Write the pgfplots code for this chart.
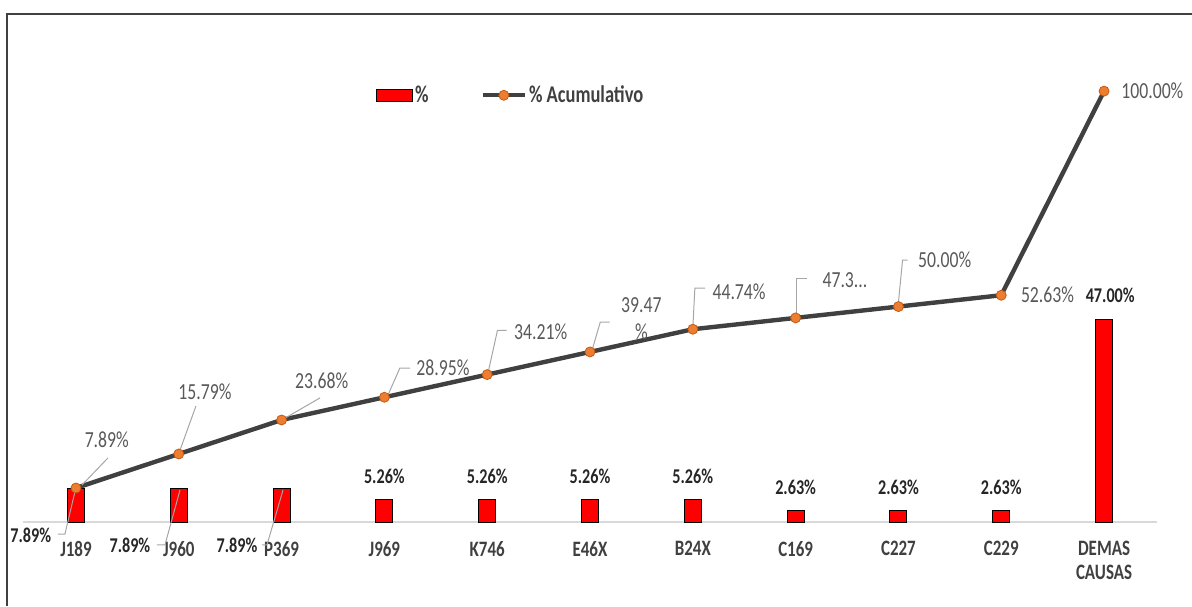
\documentclass[border=0pt]{standalone}
\usepackage{pgfplots}
\pgfplotsset{compat=1.18}
\usepackage{fontspec}
\setmainfont{Carlito}[FakeStretch=0.77]
\definecolor{barred}{HTML}{FF0000}
\definecolor{linegray}{HTML}{404040}
\definecolor{mkorange}{HTML}{ED7D31}
\definecolor{mkedge}{HTML}{C55A11}
\definecolor{lblgray}{HTML}{595959}
\definecolor{leader}{HTML}{A6A6A6}
\definecolor{tickgray}{HTML}{404040}
\begin{document}
\begin{tikzpicture}[
  lbl/.style={font=\fontsize{11.5}{12}\selectfont, text=lblgray, inner sep=0pt},
  blbl/.style={font=\fontsize{10.5}{12}\selectfont\bfseries, text=black!85, inner sep=0pt},
  ld/.style={draw=leader, line width=0.5pt}]
\begin{axis}[
  scale only axis, width=567pt, height=254pt,
  xmin=-0.515, xmax=10.515, ymin=0, ymax=117.9,
  axis x line=bottom, axis y line=none,
  x axis line style={-, draw=gray!30, line width=0.8pt},
  xtick={0,...,10},
  xticklabels={J189,J960,P369,J969,K746,E46X,B24X,C169,C227,C229,{DEMAS\\CAUSAS}},
  xticklabel style={font=\fontsize{11}{12}\selectfont\bfseries, text=tickgray, align=center, anchor=north, yshift=-6pt},
  major tick length=0pt,
  clip=false,
  legend columns=2,
  legend style={at={(0.43,0.84)}, anchor=center, draw=none, fill=none,
    font=\fontsize{12}{13}\selectfont\bfseries, text=tickgray,
    nodes={inner sep=1pt},
    /tikz/every even column/.append style={column sep=25pt}},
]
\addplot[ybar, bar width=8.5pt, fill=barred, draw=black, line width=0.5pt,
  legend image code/.code={\draw[fill=barred,draw=black,line width=0.6pt] (0pt,-3pt) rectangle (18pt,3pt);}]
  coordinates {(0,7.89) (1,7.89) (2,7.89) (3,5.26) (4,5.26) (5,5.26) (6,5.26) (7,2.63) (8,2.63) (9,2.63) (10,47.00)};
\addlegendentry{\%}
\addplot[linegray, line width=2.2pt, mark=*, mark size=2.5pt,
  mark options={fill=mkorange, draw=mkedge, line width=0.4pt},
  legend image code/.code={\draw[linegray, line width=2.2pt] (0pt,0pt)--(21pt,0pt);
    \filldraw[fill=mkorange, draw=mkedge, line width=0.4pt] (10.5pt,0pt) circle (2.5pt);}]
  coordinates {(0,7.89) (1,15.79) (2,23.68) (3,28.95) (4,34.21) (5,39.47) (6,44.74) (7,47.37) (8,50.00) (9,52.63) (10,100.00)};
\addlegendentry{\% Acumulativo}

% leader lines
\draw[ld] (axis cs:0.311,14.85) -- (axis cs:0.058,8.58);
\draw[ld] (axis cs:1.167,26.9) -- (axis cs:1.002,16.0);
\draw[ld] (axis cs:2.374,28.8) -- (axis cs:2.033,24.1);
\draw[ld] (axis cs:3.25,35.7) -- (axis cs:3.15,35.7) -- (axis cs:3.03,29.2);
\draw[ld] (axis cs:4.19,44.5) -- (axis cs:4.10,44.5) -- (axis cs:4.01,34.8);
\draw[ld] (axis cs:5.19,46.4) -- (axis cs:5.10,46.4) -- (axis cs:5.02,39.9);
\draw[ld] (axis cs:6.12,54.3) -- (axis cs:6.02,54.3) -- (axis cs:6.00,45.0);
\draw[ld] (axis cs:7.11,56.6) -- (axis cs:7.01,56.6) -- (axis cs:7.01,48.5);
\draw[ld] (axis cs:8.09,60.8) -- (axis cs:8.04,60.8) -- (axis cs:8.00,51.0);
\draw[ld] (axis cs:-0.175,-2.8) -- (axis cs:-0.107,-2.8) -- (axis cs:-0.01,7.0);
\draw[ld] (axis cs:0.788,-5.3) -- (axis cs:0.866,-5.3) -- (axis cs:1.012,7.4);
\draw[ld] (axis cs:1.809,-5.3) -- (axis cs:1.858,-5.3) -- (axis cs:2.014,7.4);

% cumulative labels
\node[lbl] at (axis cs:0.30,19.0) {7.89\%};
\node[lbl] at (axis cs:1.255,30.2) {15.79\%};
\node[lbl] at (axis cs:2.39,32.9) {23.68\%};
\node[lbl] at (axis cs:3.57,35.7) {28.95\%};
\node[lbl] at (axis cs:4.52,44.1) {34.21\%};
\node[lbl] at (axis cs:5.50,50.3) {39.47};
\node[lbl] at (axis cs:5.50,44.1) {\%};
\node[lbl] at (axis cs:6.45,53.4) {44.74\%};
\node[lbl] at (axis cs:7.48,56.1) {47.3...};
\node[lbl] at (axis cs:8.45,60.8) {50.00\%};
\node[lbl] at (axis cs:9.45,52.7) {52.63\%};
\node[lbl] at (axis cs:10.47,100.2) {100.00\%};

% bar labels
\node[blbl] at (axis cs:-0.44,-3.0) {7.89\%};
\node[blbl] at (axis cs:0.525,-5.3) {7.89\%};
\node[blbl] at (axis cs:1.566,-5.3) {7.89\%};
\node[blbl] at (axis cs:3,10.7) {5.26\%};
\node[blbl] at (axis cs:4,10.7) {5.26\%};
\node[blbl] at (axis cs:5,10.7) {5.26\%};
\node[blbl] at (axis cs:6,10.7) {5.26\%};
\node[blbl] at (axis cs:7,8.1) {2.63\%};
\node[blbl] at (axis cs:8,8.1) {2.63\%};
\node[blbl] at (axis cs:9,8.1) {2.63\%};
\node[blbl] at (axis cs:10.06,52.7) {47.00\%};

\coordinate (ll) at (rel axis cs:0,0);
\end{axis}
\draw[linegray, line width=1pt] ([xshift=-8pt,yshift=-42pt]ll) -- ([xshift=-8pt,yshift=254pt]ll) -- ([xshift=584.5pt,yshift=254pt]ll);
\pgfresetboundingbox
\useasboundingbox ([xshift=-11.5pt,yshift=-42pt]ll) rectangle ([xshift=584.5pt,yshift=261pt]ll);
\end{tikzpicture}
\end{document}
